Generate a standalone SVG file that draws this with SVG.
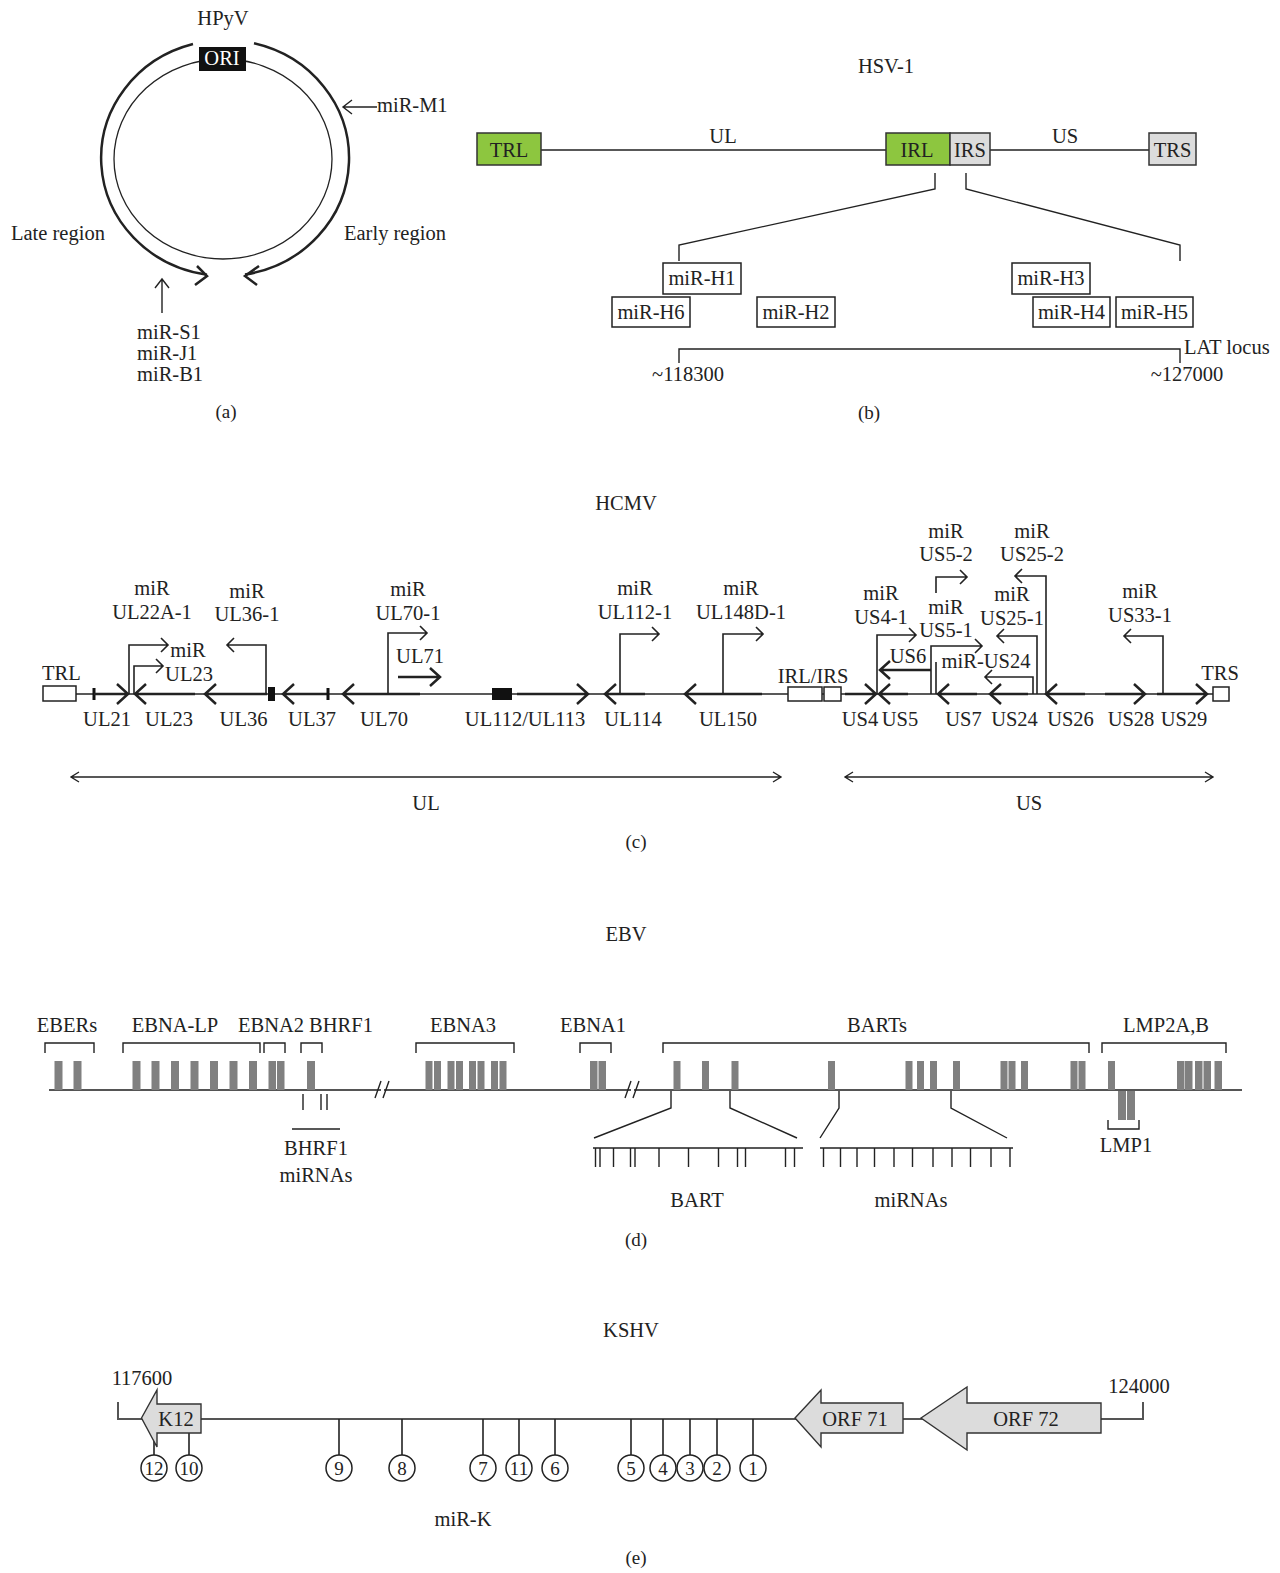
<svg xmlns="http://www.w3.org/2000/svg" width="1280" height="1573" viewBox="0 0 1280 1573">
<style>
text{font-family:"Liberation Serif","Times New Roman",serif;font-size:20.5px;fill:#222}
.m{text-anchor:middle}
.s{font-size:19px}
.thin{stroke:#222;stroke-width:1.4;fill:none}
.thick{stroke:#222;stroke-width:2.5;fill:none}
.med{stroke:#222;stroke-width:1.6;fill:none}
.green{fill:#8dc63f;stroke:#333;stroke-width:1.5}
.grey{fill:#dcdcdc;stroke:#333;stroke-width:1.5}
.box{fill:#fff;stroke:#222;stroke-width:1.5}
.bar{fill:#808080}
.eline{stroke:#555;stroke-width:2;fill:none}
.orf{fill:#dcdcdc;stroke:#333;stroke-width:1.4}
.circ{fill:#fff;stroke:#222;stroke-width:1.5}
</style>
<rect width="1280" height="1573" fill="#fff"/>

<!-- Panel (a) HPyV -->
<g id="panel-a">
  <text class="m" x="223" y="25">HPyV</text>
  <g id="hpyv-genome">
    <ellipse cx="223" cy="159" rx="109" ry="100" fill="none" stroke="#222" stroke-width="1.3"/>
    <path class="thick" d="M193,44 A124,118 0 0 0 207,274.7"/>
    <path class="thick" d="M197,266 L207,276 L195,285"/>
    <path class="thick" d="M254,43.3 A124,118 0 0 1 245,274.5"/>
    <path class="thick" d="M259,266 L245,276 L257,285"/>
  </g>
  <g id="ori">
    <rect x="199" y="47" width="47" height="24" fill="#111"/>
    <text class="m" x="222" y="65" style="fill:#fff">ORI</text>
  </g>
  <g id="mir-m1">
    <path class="thin" d="M377,107 H344 M352,100 L343,107 L352,114"/>
    <text x="377" y="112">miR-M1</text>
  </g>
  <text x="11" y="240">Late region</text>
  <text x="344" y="240">Early region</text>
  <g id="mir-s1">
    <path class="thin" d="M162,313 V280 M155,288 L162,279 L169,288"/>
    <text x="137" y="339">miR-S1</text>
    <text x="137" y="360">miR-J1</text>
    <text x="137" y="381">miR-B1</text>
  </g>
  <text class="m s" x="226" y="418">(a)</text>
</g>

<!-- Panel (b) HSV-1 -->
<g id="panel-b">
  <text class="m" x="886" y="73">HSV-1</text>
  <g id="hsv-connectors">
    <path class="thin" d="M541,150 H886 M990,150 H1149"/>
    <path class="thin" d="M935,173 V189 L679,245 V261"/>
    <path class="thin" d="M966,173 V189 L1180,245 V261"/>
    <path class="thin" d="M679,363 V349 H1180 V363"/>
  </g>
  <g id="hsv-trl"><rect class="green" x="477" y="133" width="64" height="32"/><text class="m" x="509" y="157">TRL</text></g>
  <g id="hsv-irl"><rect class="green" x="886" y="133" width="64" height="32"/><text class="m" x="917" y="157">IRL</text></g>
  <g id="hsv-irs"><rect class="grey" x="950" y="133" width="40" height="32"/><text class="m" x="970" y="157">IRS</text></g>
  <g id="hsv-trs"><rect class="grey" x="1149" y="133" width="47" height="32"/><text class="m" x="1172.5" y="157">TRS</text></g>
  <text class="m" x="723" y="143">UL</text>
  <text class="m" x="1065" y="143">US</text>
  <g id="mir-h1"><rect class="box" x="663" y="263" width="78" height="31"/><text class="m" x="702" y="285">miR-H1</text></g>
  <g id="mir-h6"><rect class="box" x="612" y="297" width="78" height="30"/><text class="m" x="651" y="319">miR-H6</text></g>
  <g id="mir-h2"><rect class="box" x="757" y="297" width="78" height="30"/><text class="m" x="796" y="319">miR-H2</text></g>
  <g id="mir-h3"><rect class="box" x="1012" y="263" width="78" height="31"/><text class="m" x="1051" y="285">miR-H3</text></g>
  <g id="mir-h4"><rect class="box" x="1033" y="297" width="77" height="30"/><text class="m" x="1071.5" y="319">miR-H4</text></g>
  <g id="mir-h5"><rect class="box" x="1116" y="297" width="77" height="30"/><text class="m" x="1154.5" y="319">miR-H5</text></g>
  <text x="1184" y="354">LAT locus</text>
  <text class="m" x="688" y="381">~118300</text>
  <text class="m" x="1187" y="381">~127000</text>
  <text class="m s" x="869" y="419">(b)</text>
</g>

<!-- Panel (c) HCMV -->
<g id="panel-c">
  <text class="m" x="626" y="510">HCMV</text>
  <g id="hcmv-connectors">
    <path class="thin" d="M76,694 H1213"/>
    <!-- miRNA bent arrows -->
    <path class="med" d="M129,694 V645 H168 M161,638 L168,645 L161,652"/>
    <path class="med" d="M134,694 V666 H163 M156,659 L163,666 L156,673"/>
    <path class="med" d="M266,694 V645 H227 M234,638 L227,645 L234,652"/>
    <path class="med" d="M388,694 V633 H427 M420,626 L427,633 L420,640"/>
    <path class="med" d="M620,694 V634 H659 M652,627 L659,634 L652,641"/>
    <path class="med" d="M723,694 V634 H763 M756,627 L763,634 L756,641"/>
    <path class="med" d="M877,694 V635 H916 M909,628 L916,635 L909,642"/>
    <path class="med" d="M931,694 V646 H982 M975,639 L982,646 L975,653"/>
    <path class="med" d="M936,694 V662 M936,593 V577 H967 M960,570 L967,577 L960,584"/>
    <path class="med" d="M1033,694 V677 H985 M992,670 L985,677 L992,684"/>
    <path class="med" d="M1037,694 V636 H997 M1004,629 L997,636 L1004,643"/>
    <path class="med" d="M1046,694 V576 H1015 M1022,569 L1015,576 L1022,583"/>
    <path class="med" d="M1163,694 V636 H1124 M1131,629 L1124,636 L1131,643"/>
    <!-- transcript arrows -->
    <path class="thick" d="M398,677 H440 M430,668 L440,677 L430,686"/>
    <path class="thick" d="M931,670 H880 M890,661 L880,670 L890,679"/>
    <!-- region arrows -->
    <path class="thin" d="M71,777 H781 M79,772 L71,777 L79,782 M773,772 L781,777 L773,782"/>
    <path class="thin" d="M845,777 H1213 M853,772 L845,777 L853,782 M1205,772 L1213,777 L1205,782"/>
  </g>
  <g id="hcmv-trl"><rect class="box" x="43" y="686" width="33" height="15"/><text x="42" y="680">TRL</text></g>
  <g id="ul21"><rect x="92.5" y="688" width="3" height="12" fill="#111"/><path class="thick" d="M94,694 H128 M117,684 L128,694 L117,704"/><text class="m" x="107" y="726">UL21</text></g>
  <g id="ul23"><path class="thick" d="M195,694 H135 M146,684 L135,694 L146,704"/><text class="m" x="169" y="726">UL23</text></g>
  <g id="ul36"><path class="thick" d="M267,694 H205 M216,684 L205,694 L216,704"/><rect x="268" y="687" width="7" height="14" fill="#111"/><text class="m" x="243.5" y="726">UL36</text></g>
  <g id="ul37"><path class="thick" d="M328,694 H283 M294,684 L283,694 L294,704"/><rect x="326.5" y="688" width="3" height="12" fill="#111"/><text class="m" x="312" y="726">UL37</text></g>
  <g id="ul70"><path class="thick" d="M420,694 H343 M354,684 L343,694 L354,704"/><text class="m" x="384" y="726">UL70</text></g>
  <g id="ul112"><rect x="492" y="688" width="20" height="12" fill="#111"/><path class="thick" d="M517,694 H588 M577,684 L588,694 L577,704"/><text class="m" x="525" y="726">UL112/UL113</text></g>
  <g id="ul114"><path class="thick" d="M645,694 H605 M616,684 L605,694 L616,704"/><text class="m" x="633" y="726">UL114</text></g>
  <g id="ul150"><path class="thick" d="M762,694 H685 M696,684 L685,694 L696,704"/><text class="m" x="728" y="726">UL150</text></g>
  <g id="irl-irs"><rect class="box" x="788" y="687" width="34" height="14"/><rect class="box" x="824" y="687" width="17" height="14"/><text class="m" x="813" y="683">IRL/IRS</text></g>
  <g id="us4"><path class="thick" d="M845,694 H876 M865,684 L876,694 L865,704"/><text class="m" x="860" y="726">US4</text></g>
  <g id="us5"><path class="thick" d="M908,694 H879 M890,684 L879,694 L890,704"/><text class="m" x="900" y="726">US5</text></g>
  <g id="us7"><path class="thick" d="M977,694 H938 M949,684 L938,694 L949,704"/><text class="m" x="963.5" y="726">US7</text></g>
  <g id="us24"><path class="thick" d="M1028,694 H990 M1001,684 L990,694 L1001,704"/><text class="m" x="1014.5" y="726">US24</text></g>
  <g id="us26"><path class="thick" d="M1085,694 H1046 M1057,684 L1046,694 L1057,704"/><text class="m" x="1070.5" y="726">US26</text></g>
  <g id="us28"><path class="thick" d="M1105,694 H1145 M1134,684 L1145,694 L1134,704"/><text class="m" x="1131" y="726">US28</text></g>
  <g id="us29"><path class="thick" d="M1157,694 H1207 M1196,684 L1207,694 L1196,704"/><text class="m" x="1184" y="726">US29</text></g>
  <g id="hcmv-trs"><rect class="box" x="1213" y="687" width="16" height="14"/><text class="m" x="1220" y="680">TRS</text></g>
  <g id="mir-ul22a"><text class="m" x="152" y="595">miR</text><text class="m" x="152" y="619">UL22A-1</text></g>
  <g id="mir-ul23"><text class="m" x="188" y="657">miR</text><text class="m" x="189" y="681">UL23</text></g>
  <g id="mir-ul36"><text class="m" x="247" y="598">miR</text><text class="m" x="247" y="621">UL36-1</text></g>
  <g id="mir-ul70"><text class="m" x="408" y="596">miR</text><text class="m" x="408" y="620">UL70-1</text></g>
  <text class="m" x="420" y="663">UL71</text>
  <g id="mir-ul112"><text class="m" x="635" y="595">miR</text><text class="m" x="635" y="619">UL112-1</text></g>
  <g id="mir-ul148d"><text class="m" x="741" y="595">miR</text><text class="m" x="741" y="619">UL148D-1</text></g>
  <g id="mir-us4"><text class="m" x="881" y="600">miR</text><text class="m" x="881" y="624">US4-1</text></g>
  <g id="mir-us5-2"><text class="m" x="946" y="538">miR</text><text class="m" x="946" y="561">US5-2</text></g>
  <g id="mir-us5-1"><text class="m" x="946" y="614">miR</text><text class="m" x="946" y="637">US5-1</text></g>
  <g id="mir-us25-2"><text class="m" x="1032" y="538">miR</text><text class="m" x="1032" y="561">US25-2</text></g>
  <g id="mir-us25-1"><text class="m" x="1012" y="601">miR</text><text class="m" x="1012" y="625">US25-1</text></g>
  <text class="m" x="908" y="663">US6</text>
  <text class="m" x="986" y="668">miR-US24</text>
  <g id="mir-us33"><text class="m" x="1140" y="598">miR</text><text class="m" x="1140" y="622">US33-1</text></g>
  <text class="m" x="426" y="810">UL</text>
  <text class="m" x="1029" y="810">US</text>
  <text class="m s" x="636" y="848">(c)</text>
</g>

<!-- Panel (d) EBV -->
<g id="panel-d">
  <text class="m" x="626" y="941">EBV</text>
  <g id="ebv-connectors">
    <path class="eline" d="M49,1090 H1242"/>
    <rect x="381" y="1080" width="3" height="20" fill="#fff"/>
    <path class="thin" d="M375,1098 L381,1081 M383,1098 L389,1081"/>
    <rect x="631" y="1080" width="3" height="20" fill="#fff"/>
    <path class="thin" d="M625,1098 L631,1081 M633,1098 L639,1081"/>
    <path class="thin" d="M671,1091 V1108 L594,1138 M730,1091 V1108 L797,1138"/>
    <path class="thin" d="M839,1091 V1108 L820,1138 M951,1091 V1108 L1007,1138"/>
    <path class="thin" d="M593,1148 H803 M820,1148 H1013"/>
    <path class="thin" d="M595.5,1148 V1167 M600,1148 V1167 M613.5,1148 V1167 M630.5,1148 V1167 M635,1148 V1167 M659,1148 V1167 M688.5,1148 V1167 M718.5,1148 V1167 M737.5,1148 V1167 M745.5,1148 V1167 M785.5,1148 V1167 M794.5,1148 V1167"/>
    <path class="thin" d="M823.5,1148 V1167 M840.5,1148 V1167 M857,1148 V1167 M874.5,1148 V1167 M894,1148 V1167 M912.5,1148 V1167 M933,1148 V1167 M952,1148 V1167 M970.5,1148 V1167 M991,1148 V1167 M1010,1148 V1167"/>
    <path class="thin" d="M303,1094 V1110 M321,1094 V1110 M327,1094 V1110 M292,1129 H340"/>
  </g>
  <g id="ebers"><path class="thin" d="M45,1053 V1043 H94 V1053"/><rect class="bar" x="54.5" y="1061" width="8" height="29"/><rect class="bar" x="73.5" y="1061" width="8" height="29"/><text class="m" x="67" y="1032">EBERs</text></g>
  <g id="ebna-lp"><path class="thin" d="M123,1053 V1043 H260 V1053"/>
    <rect class="bar" x="132.5" y="1061" width="8" height="29"/><rect class="bar" x="151.5" y="1061" width="8" height="29"/><rect class="bar" x="171" y="1061" width="8" height="29"/><rect class="bar" x="190.5" y="1061" width="8" height="29"/><rect class="bar" x="210" y="1061" width="8" height="29"/><rect class="bar" x="229.5" y="1061" width="8" height="29"/><rect class="bar" x="249" y="1061" width="8" height="29"/>
    <text class="m" x="175" y="1032">EBNA-LP</text></g>
  <g id="ebna2"><path class="thin" d="M264,1053 V1043 H285 V1053"/><rect class="bar" x="268.5" y="1061" width="7.5" height="29"/><rect class="bar" x="277" y="1061" width="7.5" height="29"/><text class="m" x="271" y="1032">EBNA2</text></g>
  <g id="bhrf1"><path class="thin" d="M301,1053 V1043 H322 V1053"/><rect class="bar" x="307" y="1061" width="8" height="29"/><text class="m" x="341" y="1032">BHRF1</text></g>
  <g id="bhrf1-mirnas"><text class="m" x="316" y="1155">BHRF1</text><text class="m" x="316" y="1182">miRNAs</text></g>
  <g id="ebna3"><path class="thin" d="M416,1053 V1043 H514 V1053"/>
    <rect class="bar" x="425.5" y="1061" width="7" height="29"/><rect class="bar" x="434" y="1061" width="7" height="29"/><rect class="bar" x="447.5" y="1061" width="7" height="29"/><rect class="bar" x="456" y="1061" width="7" height="29"/><rect class="bar" x="469" y="1061" width="7" height="29"/><rect class="bar" x="477.5" y="1061" width="7" height="29"/><rect class="bar" x="491" y="1061" width="7" height="29"/><rect class="bar" x="499.5" y="1061" width="7" height="29"/>
    <text class="m" x="463" y="1032">EBNA3</text></g>
  <g id="ebna1"><path class="thin" d="M580,1053 V1043 H611 V1053"/><rect class="bar" x="590" y="1061" width="7.5" height="29"/><rect class="bar" x="598.5" y="1061" width="7.5" height="29"/><text class="m" x="593" y="1032">EBNA1</text></g>
  <g id="barts"><path class="thin" d="M663,1053 V1043 H1089 V1053"/>
    <rect class="bar" x="673.5" y="1061" width="7" height="29"/><rect class="bar" x="702" y="1061" width="7" height="29"/><rect class="bar" x="731.5" y="1061" width="7" height="29"/><rect class="bar" x="828" y="1061" width="7" height="29"/><rect class="bar" x="905.5" y="1061" width="7" height="29"/><rect class="bar" x="917" y="1061" width="7" height="29"/><rect class="bar" x="930" y="1061" width="7" height="29"/><rect class="bar" x="953" y="1061" width="7" height="29"/><rect class="bar" x="1000.5" y="1061" width="7" height="29"/><rect class="bar" x="1008.5" y="1061" width="7" height="29"/><rect class="bar" x="1021" y="1061" width="7" height="29"/><rect class="bar" x="1070.5" y="1061" width="7" height="29"/><rect class="bar" x="1078.5" y="1061" width="7" height="29"/>
    <text class="m" x="877" y="1032">BARTs</text></g>
  <g id="lmp2"><path class="thin" d="M1102,1053 V1043 H1226 V1053"/>
    <rect class="bar" x="1108" y="1061" width="7" height="29"/><rect class="bar" x="1177" y="1061" width="7.5" height="29"/><rect class="bar" x="1185" y="1061" width="7.5" height="29"/><rect class="bar" x="1195" y="1061" width="7.5" height="29"/><rect class="bar" x="1203.5" y="1061" width="7.5" height="29"/><rect class="bar" x="1214.5" y="1061" width="7.5" height="29"/>
    <text class="m" x="1166" y="1032">LMP2A,B</text></g>
  <g id="lmp1"><rect class="bar" x="1118" y="1091" width="8" height="29"/><rect class="bar" x="1127" y="1091" width="8" height="29"/><path class="thin" d="M1108,1120 V1129 H1139 V1120"/><text class="m" x="1126" y="1152">LMP1</text></g>
  <g id="bart-mirnas"><text class="m" x="697" y="1207">BART</text><text class="m" x="911" y="1207">miRNAs</text></g>
  <text class="m s" x="636" y="1246">(d)</text>
</g>

<!-- Panel (e) KSHV -->
<g id="panel-e">
  <text class="m" x="631" y="1337">KSHV</text>
  <g id="kshv-connectors">
    <path class="eline" d="M118,1402 V1419 H1143 V1402"/>
    <path class="med" d="M154,1419 V1455 M189,1419 V1455 M339,1419 V1455 M402,1419 V1455 M483,1419 V1455 M519,1419 V1455 M555,1419 V1455 M631,1419 V1455 M663,1419 V1455 M690,1419 V1455 M717,1419 V1455 M753,1419 V1455"/>
  </g>
  <g id="k12"><polygon class="orf" points="141.5,1418 157,1390 157,1404 201,1404 201,1433 157,1433 157,1447"/><text class="m" x="176" y="1426">K12</text></g>
  <g id="orf71"><polygon class="orf" points="795,1418 821,1390 821,1403 903,1403 903,1433 821,1433 821,1447"/><text class="m" x="855" y="1426">ORF 71</text></g>
  <g id="orf72"><polygon class="orf" points="921,1418 967,1387 967,1403 1101,1403 1101,1433 967,1433 967,1450"/><text class="m" x="1026" y="1426">ORF 72</text></g>
  <text class="m" x="142" y="1385">117600</text>
  <text class="m" x="1139" y="1393">124000</text>
  <g id="mir-k12"><circle class="circ" cx="154" cy="1468" r="13"/><text class="m s" x="154" y="1475">12</text></g>
  <g id="mir-k10"><circle class="circ" cx="189" cy="1468" r="13"/><text class="m s" x="189" y="1475">10</text></g>
  <g id="mir-k9"><circle class="circ" cx="339" cy="1468" r="13"/><text class="m s" x="339" y="1475">9</text></g>
  <g id="mir-k8"><circle class="circ" cx="402" cy="1468" r="13"/><text class="m s" x="402" y="1475">8</text></g>
  <g id="mir-k7"><circle class="circ" cx="483" cy="1468" r="13"/><text class="m s" x="483" y="1475">7</text></g>
  <g id="mir-k11"><circle class="circ" cx="519" cy="1468" r="13"/><text class="m s" x="519" y="1475">11</text></g>
  <g id="mir-k6"><circle class="circ" cx="555" cy="1468" r="13"/><text class="m s" x="555" y="1475">6</text></g>
  <g id="mir-k5"><circle class="circ" cx="631" cy="1468" r="13"/><text class="m s" x="631" y="1475">5</text></g>
  <g id="mir-k4"><circle class="circ" cx="663" cy="1468" r="13"/><text class="m s" x="663" y="1475">4</text></g>
  <g id="mir-k3"><circle class="circ" cx="690" cy="1468" r="13"/><text class="m s" x="690" y="1475">3</text></g>
  <g id="mir-k2"><circle class="circ" cx="717" cy="1468" r="13"/><text class="m s" x="717" y="1475">2</text></g>
  <g id="mir-k1"><circle class="circ" cx="753" cy="1468" r="13"/><text class="m s" x="753" y="1475">1</text></g>
  <text class="m" x="463" y="1526">miR-K</text>
  <text class="m s" x="636" y="1564">(e)</text>
</g>
</svg>
